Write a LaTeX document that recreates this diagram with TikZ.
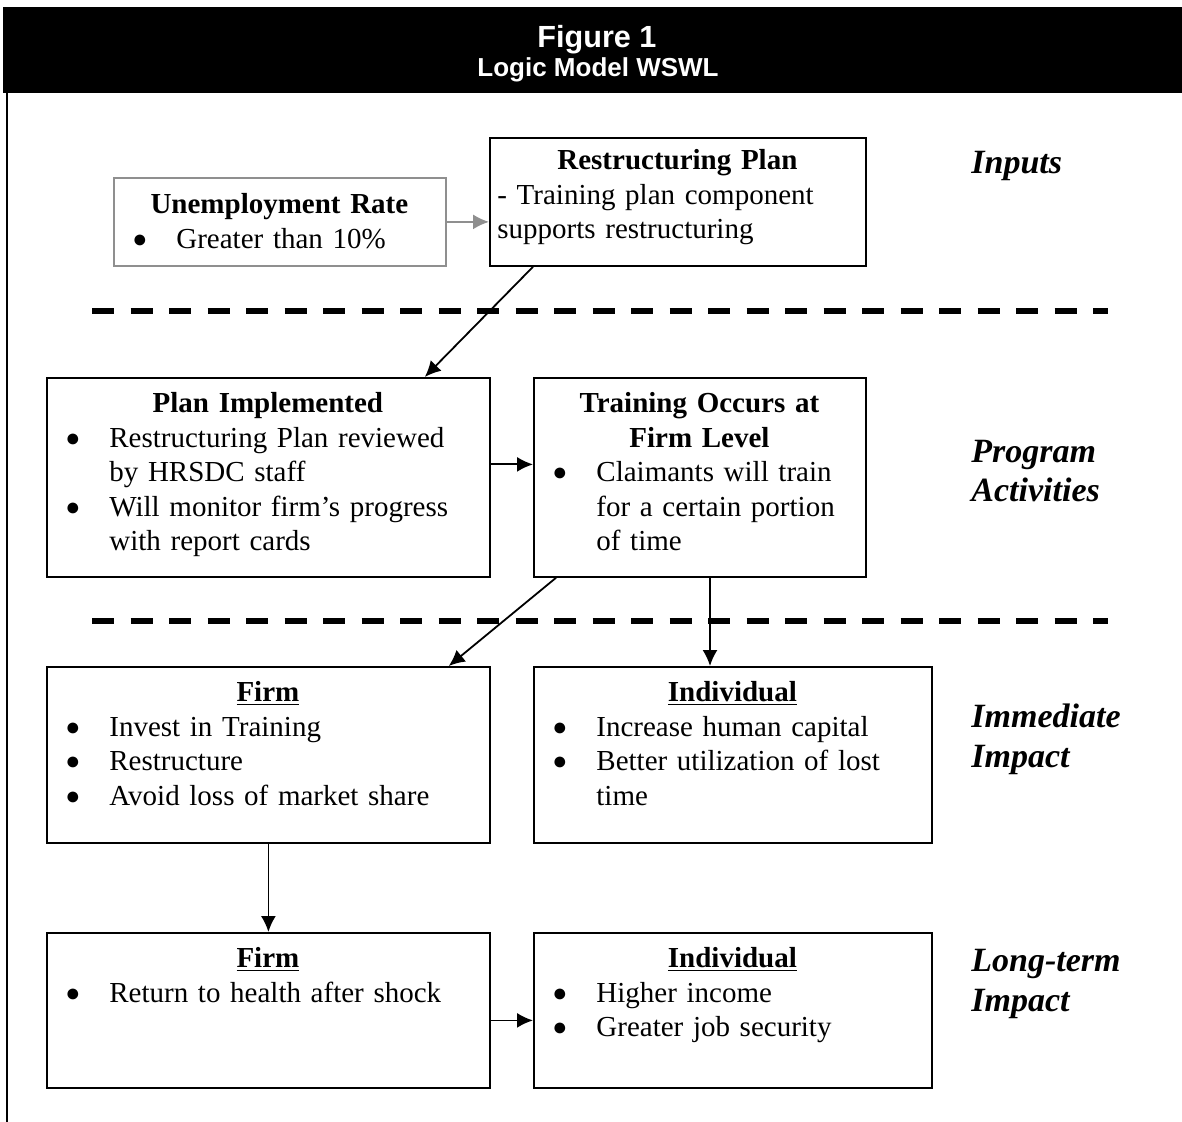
\documentclass[tikz,border=0pt]{standalone}
\usepackage{fontspec}
\setmainfont{Liberation Serif}
\newfontfamily\headfont{Liberation Sans}
\usepackage{tikz}
\usetikzlibrary{arrows.meta}
\definecolor{boxgray}{HTML}{8F8F8F}
\newlength\pxl
\setlength\pxl{0.5pt}
\newcommand{\bdot}{\raisebox{0.4pt}{\fontsize{12.5}{13}\selectfont ●}}
\newenvironment{blist}{\par\noindent\begin{tabular}[t]{@{\hspace{19\pxl}}p{44\pxl}@{}l@{}}}{\end{tabular}}

\tikzset{
  boxsize/.style 2 args={minimum width=#1*0.5pt, minimum height=#2*0.5pt},
  box/.style={draw, line width=0.9pt, inner sep=0pt, anchor=north west},
  graybox/.style={box, draw=boxgray},
  boxtext/.style={anchor=north west, inner sep=0pt, align=left, text width=#1*0.5pt,
    font=\fontsize{14.5}{17.25}\selectfont},
  side/.style={anchor=base west, inner sep=0pt, align=left,
    font=\fontsize{17}{19.75}\selectfont\bfseries\itshape},
  link/.style={-{Latex[length=8pt,width=7.5pt]}, line width=0.9pt},
  sep/.style={line width=3pt, dash pattern=on 11pt off 8.25pt},
}

\begin{document}
\begin{tikzpicture}[x=0.5pt, y=-0.5pt]
  \useasboundingbox (0,0) rectangle (1182,1122);

  % header
  \node[fill=black, anchor=north west, inner sep=0pt, boxsize={1179}{86}] (header) at (3,7) {};
  \node[anchor=base, text=white, font=\headfont\fontsize{15.3}{18}\selectfont\bfseries] (figno) at (597,48) {Figure 1};
  \node[anchor=base, text=white, font=\headfont\fontsize{13}{15}\selectfont\bfseries] (figname) at (598,77) {Logic Model WSWL};

  % frame line
  \coordinate (frametop) at (7,93);
  \coordinate (framebot) at (7,1122);
  \draw[line width=1pt] (frametop) -- (framebot);

  % boxes
  \node[graybox, boxsize={332}{88}] (unemp) at (113,177) {};
  \node[box, boxsize={376}{128}] (restr) at (489,137) {};
  \node[box, boxsize={443}{199}] (planimp) at (46,377) {};
  \node[box, boxsize={332}{199}] (training) at (533,377) {};
  \node[box, boxsize={443}{176}] (firm) at (46,666) {};
  \node[box, boxsize={398}{176}] (indiv) at (533,666) {};
  \node[box, boxsize={443}{155}] (firmlt) at (46,932) {};
  \node[box, boxsize={398}{155}] (indivlt) at (533,932) {};

  % box texts
  \node[boxtext=332] (unemptxt) at ([shift={(0,12)}]unemp.north west) {%
    {\centering\bfseries\strut Unemployment Rate\par}
    \begin{blist}
      \bdot & Greater than 10\%
    \end{blist}};
  \node[boxtext=376] (restrtxt) at ([shift={(0,8)}]restr.north west) {%
    {\centering\bfseries\strut Restructuring Plan\par}
    \noindent\begin{tabular}[t]{@{\hspace{8\pxl}}l@{}}
      - Training plan component\\
      supports restructuring
    \end{tabular}};
  \node[boxtext=443] (planimptxt) at ([shift={(0,11)}]planimp.north west) {%
    {\centering\bfseries\strut Plan Implemented\par}
    \begin{blist}
      \bdot & Restructuring Plan reviewed\\
            & by HRSDC staff\\
      \bdot & Will monitor firm's progress\\
            & with report cards
    \end{blist}};
  \node[boxtext=332] (trainingtxt) at ([shift={(0,11)}]training.north west) {%
    {\centering\bfseries\strut Training Occurs at\\ Firm Level\par}
    \begin{blist}
      \bdot & Claimants will train\\
            & for a certain portion\\
            & of time
    \end{blist}};
  \node[boxtext=443] (firmtxt) at ([shift={(0,11)}]firm.north west) {%
    {\centering\bfseries\strut\underline{Firm}\par}
    \begin{blist}
      \bdot & Invest in Training\\
      \bdot & Restructure\\
      \bdot & Avoid loss of market share
    \end{blist}};
  \node[boxtext=398] (indivtxt) at ([shift={(0,11)}]indiv.north west) {%
    {\centering\bfseries\strut\underline{Individual}\par}
    \begin{blist}
      \bdot & Increase human capital\\
      \bdot & Better utilization of lost\\
            & time
    \end{blist}};
  \node[boxtext=443] (firmlttxt) at ([shift={(0,11)}]firmlt.north west) {%
    {\centering\bfseries\strut\underline{Firm}\par}
    \begin{blist}
      \bdot & Return to health after shock
    \end{blist}};
  \node[boxtext=398] (indivlttxt) at ([shift={(0,11)}]indivlt.north west) {%
    {\centering\bfseries\strut\underline{Individual}\par}
    \begin{blist}
      \bdot & Higher income\\
      \bdot & Greater job security
    \end{blist}};

  % level labels (base is the last line)
  \node[side] (inputs) at (971,174) {Inputs};
  \node[side] (progact) at (971,502) {Program\\Activities};
  \node[side] (immimp) at (971,767) {Immediate\\Impact};
  \node[side] (longimp) at (971,1011) {Long-term\\Impact};

  % separators
  \coordinate (sepaL) at (92,311);
  \coordinate (sepaR) at (1108,311);
  \coordinate (sepbL) at (92,621);
  \coordinate (sepbR) at (1108,621);
  \draw[sep] (sepaL) -- (sepaR);
  \draw[sep] (sepbL) -- (sepbR);

  % arrows
  \draw[link, boxgray] (unemp.east) -- (unemp.east -| restr.west);
  \draw[link] ([shift={(44,0)}]restr.south west) -- ([shift={(-66,0)}]planimp.north east);
  \draw[link] ([shift={(0,-13)}]planimp.east) -- ([shift={(0,-13)}]training.west);
  \draw[link] ([shift={(23,0)}]training.south west) -- ([shift={(-42,0)}]firm.north east);
  \coordinate (trdown) at ([shift={(177,0)}]training.south west);
  \draw[link] (trdown) -- (trdown |- indiv.north);
  \draw[link] (firm.south) -- (firmlt.north);
  \draw[link] ([shift={(0,10)}]firmlt.east) -- ([shift={(0,10)}]indivlt.west);
\end{tikzpicture}
\end{document}
